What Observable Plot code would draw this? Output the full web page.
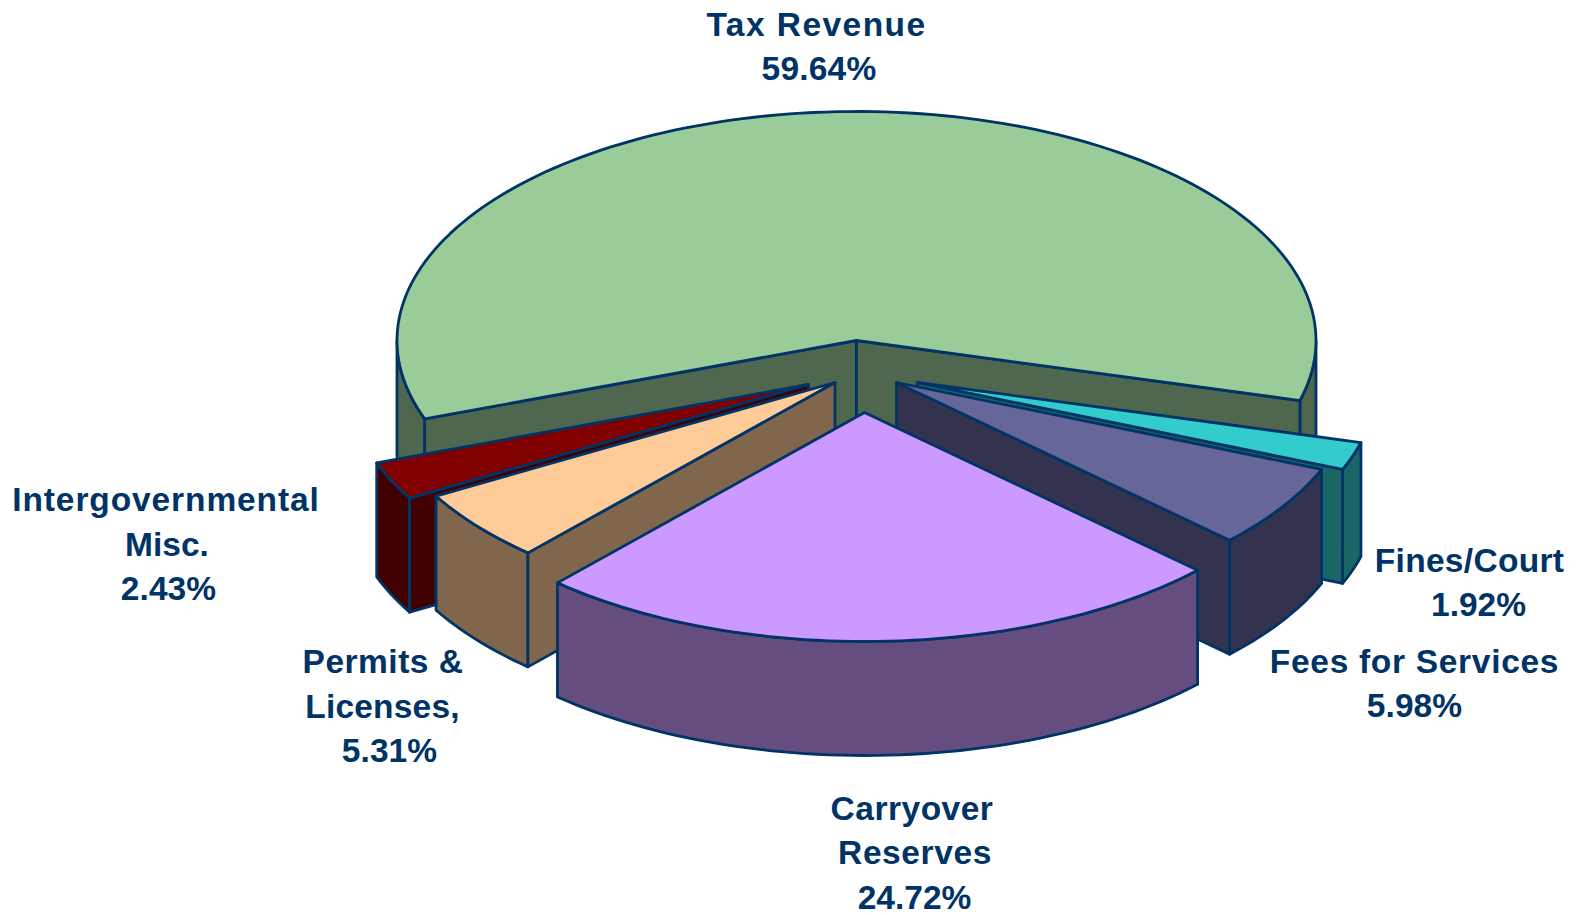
<!DOCTYPE html>
<html>
<head>
<meta charset="utf-8">
<style>html,body{margin:0;padding:0;background:#fff;overflow:hidden}svg{display:block}</style>
<script src="https://cdn.jsdelivr.net/npm/d3@7"></script>
<script src="https://cdn.jsdelivr.net/npm/@observablehq/plot@0.6"></script>
</head>
<body>
<div id="chart"></div>
<script>
// Data, clockwise from the right-hand edge of the Tax Revenue slice
const categories = ["Fines/Court", "Fees for Services", "Carryover Reserves", "Permits & Licenses,", "Intergovernmental Misc.", "Tax Revenue"];
const shares = [1.92, 5.98, 24.72, 5.31, 2.43, 59.64];
const labelLines = [
  "Fines/Court\n1.92%",
  "Fees for Services\n5.98%",
  "Carryover\nReserves\n24.72%",
  "Permits &\nLicenses,\n5.31%",
  "Intergovernmental\nMisc.\n2.43%",
  "Tax Revenue\n59.64%"
];

// Styles and layout (separate from the data)
const topColors  = ["#33CCCC", "#666699", "#CC99FF", "#FFCC99", "#800000", "#99CC99"];
const sideColors = ["#1A6666", "#33334F", "#664D7F", "#80664D", "#400000", "#4F664F"];
const outline = "#003366";
const centers = [[917, 382], [896, 382], [864, 412], [834.5, 382], [808, 384], [856, 340]];
const labelAt = [[1469, 579], [1413, 680], [913, 849.5], [384, 703], [166, 541], [816, 43.5]];
// per-line tracking and horizontal shift of the labels, in reading order
const lineTracking = [0.3, 0, 0.7, 0.1, 0.5, 0.6, 0, 0.5, 0.2, 0.1, 0.9, 0, 0.1, 1.45, 0.2];
const lineShift = [0, 9, 1, 1, -1.5, 1.5, 1, -1.5, -2, 5, -0.5, 0.5, 2, 0, 2.5];
const sweepNudge = [0.2, -0.3, -0.6, -0.8, 1.0, 0.5];
const paintOrder = [5, 0, 1, 4, 3, 2];
const rx = 459.5, ry = 229, depth = 114, startDeg = 15.2;

const rad = (d) => d * Math.PI / 180;
let acc = startDeg;
const slices = shares.map((s, i) => {
  const a0 = acc;
  acc += s * 3.6 + sweepNudge[i];
  return {i, a0, a1: acc, cx: centers[i][0], cy: centers[i][1]};
});

const rim = (s, a, dz = 0) => ({x: s.cx + rx * Math.cos(rad(a)), y: s.cy + ry * Math.sin(rad(a)) + dz});
const hub = (s, dz = 0) => ({x: s.cx, y: s.cy + dz});
const arc = (s, a, b, dz = 0) => {
  const n = Math.max(1, Math.ceil(Math.abs(b - a) / 1.5));
  return d3.range(n + 1).map((k) => rim(s, a + (b - a) * k / n, dz));
};

function polygons(s) {
  const out = [];
  const side = sideColors[s.i], top = topColors[s.i];
  const wall = (a) => ({pts: [hub(s), rim(s, a), rim(s, a, depth), hub(s, depth)], fill: side});
  if (s.a1 - s.a0 > 180) {
    out.push(wall(s.a0), wall(s.a1));
  } else {
    if (-Math.cos(rad(s.a0)) > 0) out.push(wall(s.a0));
    if (Math.cos(rad(s.a1)) > 0) out.push(wall(s.a1));
  }
  // outer curved wall: the part of the rim in front
  for (const [lo, hi] of [[0, 180], [360, 540]]) {
    const a = Math.max(s.a0, lo), b = Math.min(s.a1, hi);
    if (b > a) out.unshift({pts: [...arc(s, a, b), ...arc(s, b, a, depth)], fill: side});
  }
  out.push({pts: [hub(s), ...arc(s, s.a0, s.a1)], fill: top});
  return out;
}

const polys = paintOrder.flatMap((i) => polygons(slices[i]));

const labels = labelLines.map((text, i) => ({text, x: labelAt[i][0], y: labelAt[i][1], name: categories[i]}));

const chart = Plot.plot({
  width: 1583,
  height: 915,
  margin: 0,
  x: {domain: [0, 1583], axis: null},
  y: {domain: [915, 0], axis: null},
  style: {background: "transparent"},
  marks: [
    ...polys.map((p) => Plot.line(p.pts, {
      x: "x", y: "y", fill: p.fill, stroke: outline, strokeWidth: 2.8,
      strokeLinejoin: "round", curve: "linear-closed"
    })),
    Plot.text(labels, {
      x: "x", y: "y", text: "text",
      fontFamily: "Liberation Sans", fontWeight: "bold", fontSize: 33.5,
      lineHeight: 1.325, lineAnchor: "middle", textAnchor: "middle", fill: outline
    })
  ]
});
d3.select(chart).selectAll("text tspan").each(function (_, k) {
  d3.select(this).style("letter-spacing", lineTracking[k] + "px").attr("x", lineShift[k]);
});
document.getElementById("chart").appendChild(chart);
</script>
</body>
</html>
